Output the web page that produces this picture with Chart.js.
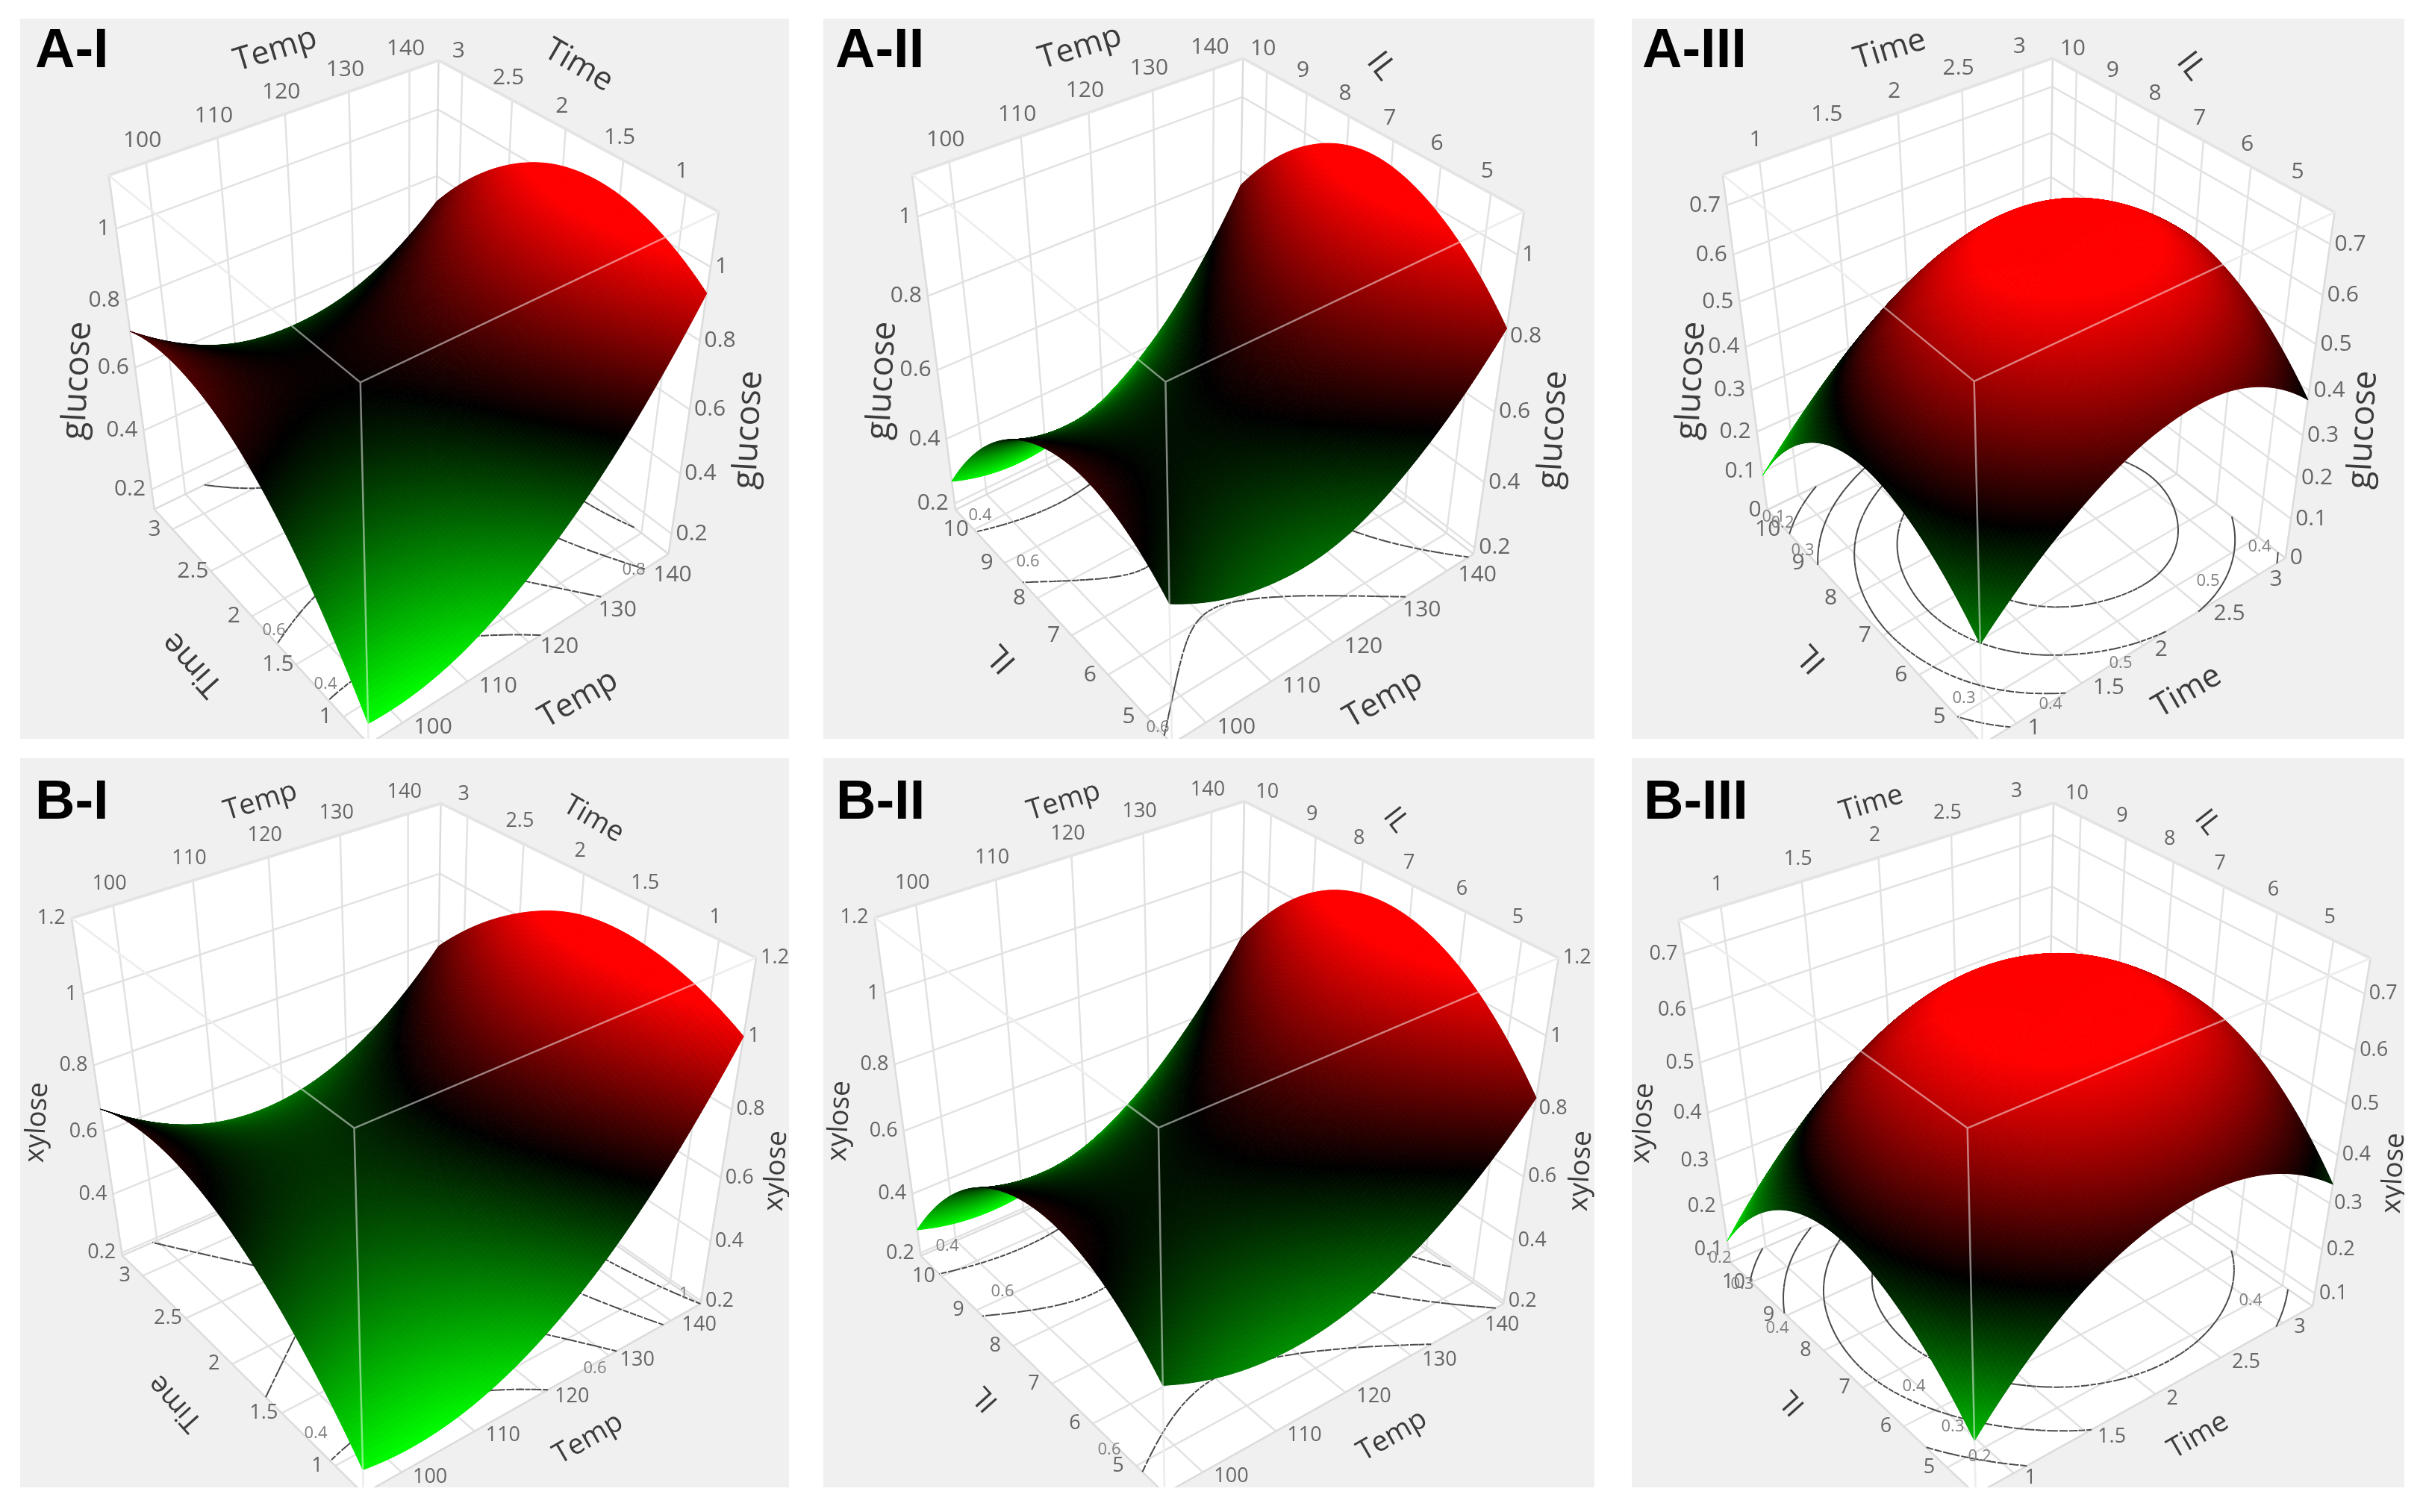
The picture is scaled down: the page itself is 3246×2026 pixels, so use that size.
<!DOCTYPE html>
<html>
<head>
<meta charset="utf-8">
<title>Glucose and xylose response surfaces</title>
<script src="https://cdn.jsdelivr.net/npm/chart.js@4/dist/chart.umd.min.js"></script>
<style>
    body { margin: 0; background: #fff; width: 3246px; height: 2026px; position: relative; overflow: hidden; }
    canvas { position: absolute; filter: blur(0.6px); }
</style>
</head>
<body>
<script>
// axis ranges of the cube (ticks sit inside them) and the surface nodes
const tempGrid = [95, 107.5, 120, 132.5, 145];
const timeGrid = [0.75, 1.375, 2, 2.625, 3.25];
const ilGrid = [4.375, 5.9375, 7.5, 9.0625, 10.625];

const tempTicks = [100, 110, 120, 130, 140];
const timeTicks = [1, 1.5, 2, 2.5, 3];
const ilTicks = [5, 6, 7, 8, 9, 10];
const glucoseTicks = [0.2, 0.4, 0.6, 0.8, 1];
const glucoseTicksIII = [0, 0.1, 0.2, 0.3, 0.4, 0.5, 0.6, 0.7];
const xyloseTicks = [0.2, 0.4, 0.6, 0.8, 1, 1.2];
const xyloseTicksIII = [0.1, 0.2, 0.3, 0.4, 0.5, 0.6, 0.7];

// surface heights, rows = second factor, columns = first factor
const glucoseTempTime = [
    [0.20, 0.23, 0.37, 0.60, 0.93],
    [0.49, 0.47, 0.56, 0.75, 1.04],
    [0.67, 0.61, 0.65, 0.79, 1.04],
    [0.74, 0.64, 0.64, 0.73, 0.93],
    [0.71, 0.56, 0.52, 0.57, 0.72]
];
const glucoseTempIL = [
    [0.58, 0.48, 0.48, 0.60, 0.82],
    [0.69, 0.60, 0.62, 0.75, 0.99],
    [0.67, 0.60, 0.64, 0.78, 1.04],
    [0.53, 0.48, 0.53, 0.69, 0.96],
    [0.27, 0.23, 0.30, 0.47, 0.76]
];
const glucoseTimeIL = [
    [0.24, 0.40, 0.49, 0.49, 0.38],
    [0.36, 0.54, 0.63, 0.63, 0.52],
    [0.38, 0.57, 0.68, 0.67, 0.56],
    [0.29, 0.48, 0.58, 0.58, 0.48],
    [0.09, 0.25, 0.34, 0.35, 0.29]
];
const xyloseTempTime = [
    [0.27, 0.27, 0.39, 0.63, 1.00],
    [0.52, 0.48, 0.56, 0.76, 1.09],
    [0.67, 0.59, 0.63, 0.80, 1.09],
    [0.72, 0.60, 0.60, 0.73, 0.98],
    [0.67, 0.51, 0.48, 0.57, 0.78]
];
const xyloseTempIL = [
    [0.53, 0.44, 0.46, 0.59, 0.83],
    [0.70, 0.62, 0.65, 0.79, 1.05],
    [0.71, 0.64, 0.69, 0.85, 1.12],
    [0.57, 0.52, 0.58, 0.75, 1.04],
    [0.28, 0.24, 0.32, 0.50, 0.80]
];
const xyloseTimeIL = [
    [0.19, 0.37, 0.45, 0.44, 0.34],
    [0.33, 0.50, 0.585, 0.58, 0.49],
    [0.37, 0.55, 0.64, 0.635, 0.54],
    [0.30, 0.50, 0.60, 0.595, 0.50],
    [0.12, 0.31, 0.41, 0.41, 0.32]
];

const panels = [
    {
        title: 'A-I', titleAt: [47, 90], rect: [27, 25, 1030, 965],
        uName: 'Temp', vName: 'Time', zName: 'glucose',
        uGrid: tempGrid, vGrid: timeGrid, uTicks: tempTicks, vTicks: timeTicks, zTicks: glucoseTicks,
        zRange: [0.13, 1.14], heights: glucoseTempTime, levels: [0.4, 0.6, 0.8, 1],
        cube: { tN: [483, 513], tL: [146, 234], tR: [963, 284], tF: [587, 81], bL: [207, 683], bR: [896, 742], bN: [493, 997] },
        names: { uTop: [369, 67], vTop: [775, 88], zL: [104, 510], zR: [1003, 576], uBot: [775, 937], vBot: [258, 890] },
        contourText: [['0.8', 849, 764], ['0.6', 367, 845], ['0.4', 436, 917]]
    },
    {
        title: 'A-II', titleAt: [1119, 90], rect: [1103, 25, 1033, 965],
        uName: 'Temp', vName: 'IL', zName: 'glucose',
        uGrid: tempGrid, vGrid: ilGrid, uTicks: tempTicks, vTicks: ilTicks, zTicks: glucoseTicks,
        zRange: [0.18, 1.1], heights: glucoseTempIL, levels: [0.4, 0.6, 0.8],
        cube: { tN: [1561, 511], tL: [1222, 234], tR: [2042, 284], tF: [1665, 78], bL: [1280, 683], bR: [1974, 742], bN: [1570, 997] },
        names: { uTop: [1447, 64], vTop: [1850, 89], zL: [1182, 510], zR: [2081, 576], uBot: [1853, 937], vBot: [1342, 882] },
        contourText: [['0.4', 1313, 691], ['0.6', 1377, 753], ['0.6', 1551, 975]]
    },
    {
        title: 'A-III', titleAt: [2200, 90], rect: [2186, 25, 1035, 965],
        uName: 'Time', vName: 'IL', zName: 'glucose',
        uGrid: timeGrid, vGrid: ilGrid, uTicks: timeTicks, vTicks: ilTicks, zTicks: glucoseTicksIII,
        zRange: [0, 0.76], heights: glucoseTimeIL, levels: [0.2, 0.3, 0.4, 0.5, 0.6],
        cube: { tN: [2646, 511], tL: [2307, 234], tR: [3127, 284], tF: [2750, 78], bL: [2368, 683], bR: [3062, 748], bN: [2655, 997] },
        names: { uTop: [2532, 67], vTop: [2935, 89], zL: [2266, 510], zR: [3166, 576], uBot: [2930, 927], vBot: [2427, 882] },
        contourText: [['0.1', 2376, 693], ['0.2', 2388, 701], ['0.3', 2415, 738], ['0.5', 2958, 779], ['0.4', 3027, 733], ['0.5', 2841, 889], ['0.4', 2747, 944], ['0.3', 2631, 936]]
    },
    {
        title: 'B-I', titleAt: [47, 1097], rect: [27, 1016, 1030, 977],
        uName: 'Temp', vName: 'Time', zName: 'xylose',
        uGrid: tempGrid, vGrid: timeGrid, uTicks: tempTicks, vTicks: timeTicks, zTicks: xyloseTicks,
        zRange: [0.19, 1.2], heights: xyloseTempTime, levels: [0.4, 0.6, 0.8, 1],
        cube: { tN: [475, 1513], tL: [96, 1229], tR: [1013, 1283], tF: [590, 1077], bL: [164, 1683], bR: [939, 1747], bN: [486, 2001] },
        names: { uTop: [349, 1074], vTop: [795, 1098], zL: [50, 1504], zR: [1040, 1569], uBot: [788, 1928], vBot: [235, 1880] },
        contourText: [['0.6', 797, 1834], ['0.4', 423, 1921], ['1', 916, 1734]]
    },
    {
        title: 'B-II', titleAt: [1120, 1097], rect: [1103, 1016, 1033, 977],
        uName: 'Temp', vName: 'IL', zName: 'xylose',
        uGrid: tempGrid, vGrid: ilGrid, uTicks: tempTicks, vTicks: ilTicks, zTicks: xyloseTicks,
        zRange: [0.19, 1.2], heights: xyloseTempIL, levels: [0.4, 0.6, 0.8, 1],
        cube: { tN: [1551, 1512], tL: [1172, 1229], tR: [2088, 1283], tF: [1667, 1074], bL: [1233, 1683], bR: [2014, 1747], bN: [1561, 2001] },
        names: { uTop: [1425, 1074], vTop: [1870, 1099], zL: [1125, 1502], zR: [2118, 1569], uBot: [1865, 1924], vBot: [1320, 1874] },
        contourText: [['0.4', 1269, 1670], ['0.6', 1343, 1731], ['0.6', 1486, 1943]]
    },
    {
        title: 'B-III', titleAt: [2202, 1097], rect: [2186, 1016, 1035, 977],
        uName: 'Time', vName: 'IL', zName: 'xylose',
        uGrid: timeGrid, vGrid: ilGrid, uTicks: timeTicks, vTicks: ilTicks, zTicks: xyloseTicksIII,
        zRange: [0.07, 0.76], heights: xyloseTimeIL, levels: [0.2, 0.3, 0.4, 0.5],
        cube: { tN: [2635, 1515], tL: [2250, 1229], tR: [3176, 1283], tF: [2750, 1077], bL: [2318, 1693], bR: [3099, 1750], bN: [2646, 2001] },
        names: { uTop: [2507, 1077], vTop: [2957, 1102], zL: [2201, 1505], zR: [3207, 1572], uBot: [2945, 1924], vBot: [2401, 1879] },
        contourText: [['0.2', 2304, 1686], ['0.3', 2334, 1721], ['0.4', 2381, 1780], ['0.4', 2564, 1858], ['0.3', 2616, 1912], ['0.2', 2652, 1952], ['0.4', 3015, 1743]]
    }
];

const SUBDIV = 120;

// camera matrix from the cube corners (least squares)
function solveCamera(cube) {
    const pairs = [
        [0, 0, 1, cube.tN], [0, 1, 1, cube.tL], [1, 0, 1, cube.tR], [1, 1, 1, cube.tF],
        [0, 1, 0, cube.bL], [1, 0, 0, cube.bR], [0, 0, 0, cube.bN]
    ];
    const rows = [];
    pairs.forEach(([a, b, c, p]) => {
        const x = p[0] / 1000, y = p[1] / 1000;
        rows.push([a, b, c, 1, 0, 0, 0, 0, -x * a, -x * b, -x * c, x]);
        rows.push([0, 0, 0, 0, a, b, c, 1, -y * a, -y * b, -y * c, y]);
    });
    const n = 11;
    const m = [];
    for (let i = 0; i < n; i++) {
        m.push([]);
        for (let j = 0; j <= n; j++) {
            let s = 0;
            rows.forEach(r => { s += r[i] * r[j]; });
            m[i].push(s);
        }
    }
    for (let i = 0; i < n; i++) {
        let best = i;
        for (let k = i + 1; k < n; k++) if (Math.abs(m[k][i]) > Math.abs(m[best][i])) best = k;
        [m[i], m[best]] = [m[best], m[i]];
        for (let k = 0; k < n; k++) {
            if (k === i) continue;
            const f = m[k][i] / m[i][i];
            for (let j = i; j <= n; j++) m[k][j] -= f * m[i][j];
        }
    }
    const p = m.map((r, i) => r[n] / r[i]);
    return (a, b, c) => {
        const w = p[8] * a + p[9] * b + p[10] * c + 1;
        return {
            x: 1000 * (p[0] * a + p[1] * b + p[2] * c + p[3]) / w,
            y: 1000 * (p[4] * a + p[5] * b + p[6] * c + p[7]) / w
        };
    };
}

// spline through the read values, only to draw them smoothly
function smooth(vals, t) {
    const n = vals.length - 1;
    const s = Math.min(t * n, n - 1e-9);
    const i = Math.floor(s), f = s - i;
    const at = k => k < 0 ? 3 * vals[0] - 3 * vals[1] + vals[2]
        : k > n ? 3 * vals[n] - 3 * vals[n - 1] + vals[n - 2] : vals[k];
    const p0 = at(i - 1), p1 = at(i), p2 = at(i + 1), p3 = at(i + 2);
    return p1 + 0.5 * f * (p2 - p0 + f * (2 * p0 - 5 * p1 + 4 * p2 - p3 + f * (3 * (p1 - p2) + p3 - p0)));
}

function segments(list) {
    const out = [];
    list.forEach(([p, q]) => { out.push(p, q, { x: NaN, y: NaN }); });
    return out;
}

function lineSet(data, color, width, extra) {
    return Object.assign({ data: data, showLine: true, borderColor: color, borderWidth: width, pointRadius: 0, fill: false, tension: 0 }, extra || {});
}

function surfaceColor(t) {
    if (t < 0.5) return `rgb(0,${Math.round(255 * (1 - 2 * t))},0)`;
    return `rgb(${Math.round(255 * Math.min(1, (2 * t - 1) * 1.2))},0,0)`;
}

// paints the mesh from the point elements placed by the scales
const surfacePlugin = {
    id: 'surface',
    afterDatasetDraw(chart, args) {
        const ds = chart.data.datasets[args.index];
        if (!ds.isSurface) return;
        const ctx = chart.ctx;
        const pts = args.meta.data;
        const N = SUBDIV + 1;
        ctx.save();
        ctx.lineWidth = 1;
        for (let j = SUBDIV - 1; j >= 0; j--) {
            for (let i = SUBDIV - 1; i >= 0; i--) {
                const a = j * N + i, b = a + 1, c = a + N + 1, d = a + N;
                const z = (ds.data[a].z + ds.data[b].z + ds.data[c].z + ds.data[d].z) / 4;
                const col = surfaceColor((z - ds.zLow) / (ds.zHigh - ds.zLow));
                ctx.fillStyle = col;
                ctx.strokeStyle = col;
                ctx.beginPath();
                ctx.moveTo(pts[a].x, pts[a].y);
                ctx.lineTo(pts[b].x, pts[b].y);
                ctx.lineTo(pts[c].x, pts[c].y);
                ctx.lineTo(pts[d].x, pts[d].y);
                ctx.closePath();
                ctx.fill();
                ctx.stroke();
            }
        }
        ctx.restore();
    }
};

const textPlugin = {
    id: 'panelText',
    afterDraw(chart, args, opts) {
        const ctx = chart.ctx;
        opts.items.forEach(t => {
            ctx.save();
            ctx.translate(chart.scales.x.getPixelForValue(t.x), chart.scales.y.getPixelForValue(t.y));
            if (t.rot) ctx.rotate(t.rot * Math.PI / 180);
            ctx.font = t.font;
            ctx.fillStyle = t.color;
            ctx.textAlign = t.align || 'center';
            ctx.textBaseline = t.base || 'middle';
            ctx.fillText(t.text, 0, 0);
            ctx.restore();
        });
    }
};

function buildPanel(panel, rowIndex) {
    const project = solveCamera(panel.cube);
    const uOf = v => (v - panel.uGrid[0]) / (panel.uGrid[4] - panel.uGrid[0]);
    const vOf = v => (v - panel.vGrid[0]) / (panel.vGrid[4] - panel.vGrid[0]);
    const wOf = z => (z - panel.zRange[0]) / (panel.zRange[1] - panel.zRange[0]);

    // surface mesh
    const mesh = [];
    let zLow = Infinity, zHigh = -Infinity;
    for (let j = 0; j <= SUBDIV; j++) {
        for (let i = 0; i <= SUBDIV; i++) {
            const u = i / SUBDIV, v = j / SUBDIV;
            const z = smooth(panel.heights.map(row => smooth(row, u)), v);
            zLow = Math.min(zLow, z);
            zHigh = Math.max(zHigh, z);
            const p = project(u, v, wOf(z));
            mesh.push({ x: p.x, y: p.y, z: z });
        }
    }

    // contours on the floor
    const contourSegs = [];
    const N = SUBDIV + 1;
    const step = 2;
    panel.levels.forEach(level => {
        for (let j = 0; j < SUBDIV; j += step) {
            for (let i = 0; i < SUBDIV; i += step) {
                const corner = [[i, j], [i + step, j], [i + step, j + step], [i, j + step]];
                const zs = corner.map(c => mesh[c[1] * N + c[0]].z);
                const hits = [];
                for (let k = 0; k < 4; k++) {
                    const z1 = zs[k], z2 = zs[(k + 1) % 4];
                    if ((z1 < level) !== (z2 < level)) {
                        const f = (level - z1) / (z2 - z1);
                        const c1 = corner[k], c2 = corner[(k + 1) % 4];
                        hits.push(project((c1[0] + f * (c2[0] - c1[0])) / SUBDIV, (c1[1] + f * (c2[1] - c1[1])) / SUBDIV, 0));
                    }
                }
                if (hits.length >= 2) contourSegs.push([hits[0], hits[1]]);
                if (hits.length === 4) contourSegs.push([hits[2], hits[3]]);
            }
        }
    });

    // grid on the walls and the floor
    const gridSegs = [];
    panel.uTicks.forEach(t => {
        const a = uOf(t);
        gridSegs.push([project(a, 1, 0), project(a, 1, 1)]);
        gridSegs.push([project(a, 0, 0), project(a, 1, 0)]);
    });
    panel.vTicks.forEach(t => {
        const b = vOf(t);
        gridSegs.push([project(1, b, 0), project(1, b, 1)]);
        gridSegs.push([project(0, b, 0), project(1, b, 0)]);
    });
    panel.zTicks.forEach(t => {
        const c = wOf(t);
        gridSegs.push([project(0, 1, c), project(1, 1, c)]);
        gridSegs.push([project(1, 0, c), project(1, 1, c)]);
    });

    const T = (a, b) => project(a, b, 1), B = (a, b) => project(a, b, 0);
    const hull = [T(0, 1), T(1, 1), T(1, 0), B(1, 0), B(0, 0), B(0, 1), T(0, 1)];
    const backEdges = [
        [B(0, 1), T(0, 1)], [B(1, 0), T(1, 0)], [B(1, 1), T(1, 1)],
        [B(0, 0), B(0, 1)], [B(0, 0), B(1, 0)], [B(1, 1), B(0, 1)], [B(1, 1), B(1, 0)]
    ];
    const topEdges = [[T(0, 1), T(1, 1)], [T(1, 1), T(1, 0)]];
    const nearEdges = [[T(0, 0), T(0, 1)], [T(0, 0), T(1, 0)], [T(0, 0), B(0, 0)]];

    // back to front; reversed below because Chart.js paints the first dataset last
    const layers = [
        lineSet(hull, '#e6e6e6', 2, { fill: 'shape', backgroundColor: '#ffffff' }),
        lineSet(segments(gridSegs), '#e2e2e2', 2.5),
        lineSet(segments(backEdges), '#dcdcdc', 2.5),
        lineSet(segments(topEdges), '#e4e4e4', 4),
        lineSet(segments(nearEdges), '#dcdcdc', 2.5),
        lineSet(segments(contourSegs), '#4a4a4a', 2, { borderDash: [7, 2] }),
        { data: mesh, isSurface: true, zLow: zLow, zHigh: zHigh, showLine: false, pointRadius: 0 },
        lineSet(segments(nearEdges), 'rgba(255,255,255,0.5)', 2.5)
    ];

    // text
    const isTop = rowIndex === 0;
    const tickFont = (isTop ? '30px' : '27px') + ' "Open Sans"';
    const nameFont = (isTop ? '43px' : '38px') + ' "Open Sans"';
    const zFont = (isTop ? '45px' : '37px') + ' "Open Sans"';
    const tickColor = '#666666', nameColor = '#3c3c3c';
    const items = [];
    panel.uTicks.forEach(t => {
        const a = uOf(t), top = T(a, 1), bot = B(a, 0);
        items.push({ text: String(t), x: top.x - 5, y: top.y - 29, font: tickFont, color: tickColor });
        items.push({ text: String(t), x: bot.x + 15, y: bot.y + 6, font: tickFont, color: tickColor, align: 'left' });
    });
    panel.vTicks.forEach(t => {
        const b = vOf(t), top = T(1, b), bot = B(0, b);
        items.push({ text: String(t), x: top.x - 5, y: top.y - 30, font: tickFont, color: tickColor });
        items.push({ text: String(t), x: bot.x - 24, y: bot.y, font: tickFont, color: tickColor });
    });
    panel.zTicks.forEach(t => {
        const c = wOf(t), l = project(0, 1, c), r = project(1, 0, c);
        items.push({ text: String(t), x: l.x - 8, y: l.y, font: tickFont, color: tickColor, align: 'right' });
        items.push({ text: String(t), x: r.x + 6, y: r.y, font: tickFont, color: tickColor, align: 'left' });
    });
    panel.contourText.forEach(c => {
        items.push({ text: c[0], x: c[1], y: c[2], font: '22px "Open Sans"', color: '#808080' });
    });
    const n = panel.names;
    const vTopRot = panel.vName === 'IL' ? 52 : 30;
    items.push({ text: panel.uName, x: n.uTop[0], y: n.uTop[1], rot: -17, font: nameFont, color: nameColor });
    items.push({ text: panel.vName, x: n.vTop[0], y: n.vTop[1], rot: vTopRot, font: nameFont, color: nameColor });
    items.push({ text: panel.zName, x: n.zL[0], y: n.zL[1], rot: -87, font: zFont, color: nameColor });
    items.push({ text: panel.zName, x: n.zR[0], y: n.zR[1], rot: -87, font: zFont, color: nameColor });
    items.push({ text: panel.uName, x: n.uBot[0], y: n.uBot[1], rot: -30, font: nameFont, color: nameColor });
    items.push({ text: panel.vName, x: n.vBot[0], y: n.vBot[1], rot: 228, font: nameFont, color: nameColor });
    items.push({ text: panel.title, x: panel.titleAt[0], y: panel.titleAt[1], font: 'bold 74px "Liberation Sans"', color: '#000000', align: 'left', base: 'alphabetic' });

    const [rx, ry, rw, rh] = panel.rect;
    const canvas = document.createElement('canvas');
    canvas.width = rw;
    canvas.height = rh;
    canvas.style.left = rx + 'px';
    canvas.style.top = ry + 'px';
    canvas.style.width = rw + 'px';
    canvas.style.height = rh + 'px';
    canvas.style.background = '#f0f0f0';
    document.body.appendChild(canvas);

    new Chart(canvas.getContext('2d'), {
        type: 'scatter',
        data: { datasets: layers.reverse() },
        plugins: [surfacePlugin, textPlugin],
        options: {
            responsive: false,
            animation: false,
            events: [],
            layout: { padding: 0 },
            plugins: { legend: { display: false }, tooltip: { enabled: false }, panelText: { items: items } },
            scales: {
                x: { type: 'linear', display: false, min: rx, max: rx + rw },
                y: { type: 'linear', display: false, min: ry, max: ry + rh, reverse: true }
            }
        }
    });
}

panels.forEach((p, i) => buildPanel(p, i < 3 ? 0 : 1));
</script>
</body>
</html>
